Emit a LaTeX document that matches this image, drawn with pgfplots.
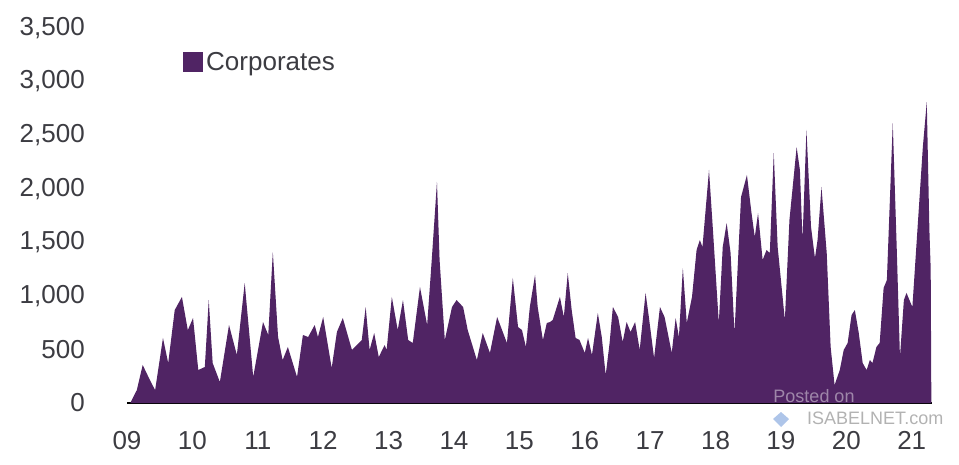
\documentclass[border=0pt]{standalone}
\usepackage{fontspec}
\setmainfont{Liberation Sans}
\usepackage{pgfplots}
\pgfplotsset{compat=1.18}
\definecolor{corp}{RGB}{80,36,100}
\definecolor{txt}{RGB}{60,60,66}
\begin{document}
\begin{tikzpicture}[x=1pt,y=1pt]
\path[use as bounding box] (0,0) rectangle (959,464);
\begin{axis}[
  at={(127pt,61pt)}, anchor=south west,
  scale only axis, width=805pt, height=375pt,
  xmin=2009, xmax=2021.31, ymin=0, ymax=3500,
  axis lines*=left,
  y axis line style={draw=none},
  x axis line style={black, line width=1.6pt},
  tick style={draw=none},
  major tick length=0pt,
  xtick={2009,2010,...,2021},
  xticklabels={09,10,11,12,13,14,15,16,17,18,19,20,21},
  ytick={0,500,...,3500},
  scaled y ticks=false,
  /pgf/number format/assume math mode=true,
  /pgf/number format/1000 sep={,},
  ticklabel style={font=\fontsize{26}{30}\selectfont, text=txt},
  yticklabel style={anchor=east, inner sep=0pt, xshift=-42pt},
  xticklabel style={anchor=north, inner sep=0pt, yshift=-28pt},
  legend style={draw=none, fill=none, at={(0.0696,0.909)}, anchor=west,
     font=\fontsize{26}{30}\selectfont, text=txt, inner sep=0pt,
     nodes={inner xsep=3pt, inner ysep=0pt}},
  legend image code/.code={\fill[corp] (0pt,-10pt) rectangle (20pt,10pt);},
]
\addplot[fill=corp, draw=none] coordinates {
(2009.05,0) (2009.15,120) (2009.24,355) (2009.35,215) (2009.43,120) (2009.55,607)
(2009.63,373) (2009.73,868) (2009.84,990) (2009.93,680) (2010.01,793) (2010.09,308)
(2010.19,336) (2010.25,961) (2010.31,373) (2010.42,196) (2010.56,728) (2010.68,448)
(2010.80,1120) (2010.93,243) (2011.08,756) (2011.16,635) (2011.23,1409) (2011.31,616)
(2011.38,401) (2011.46,523) (2011.60,243) (2011.69,635) (2011.77,616) (2011.87,728)
(2011.92,616) (2012.00,803) (2012.13,327) (2012.21,663) (2012.30,793) (2012.44,495)
(2012.59,588) (2012.65,896) (2012.71,495) (2012.78,653) (2012.85,429) (2012.94,541)
(2012.97,495) (2013.05,990) (2013.14,681) (2013.22,961) (2013.30,588) (2013.37,560)
(2013.48,1083) (2013.59,728) (2013.66,1335) (2013.74,2063) (2013.78,1335) (2013.86,588)
(2013.97,896) (2014.04,961) (2014.14,896) (2014.21,681) (2014.35,401) (2014.44,653)
(2014.55,467) (2014.66,803) (2014.81,560) (2014.90,1167) (2014.98,709) (2015.04,681)
(2015.10,523) (2015.16,896) (2015.24,1195) (2015.28,896) (2015.36,588) (2015.42,747)
(2015.47,756) (2015.51,775) (2015.62,990) (2015.68,803) (2015.74,1213) (2015.80,868)
(2015.86,607) (2015.92,588) (2016.00,467) (2016.05,607) (2016.11,448) (2016.20,840)
(2016.26,616) (2016.32,261) (2016.38,560) (2016.43,896) (2016.51,803) (2016.58,569)
(2016.64,756) (2016.70,663) (2016.77,756) (2016.84,495) (2016.93,1027) (2016.98,803)
(2017.06,420) (2017.15,896) (2017.22,803) (2017.27,653) (2017.33,467) (2017.39,793)
(2017.44,616) (2017.50,1260) (2017.56,747) (2017.64,990) (2017.71,1428) (2017.76,1521)
(2017.80,1456) (2017.90,2175) (2017.96,1615) (2018.05,747) (2018.11,1456) (2018.17,1680)
(2018.23,1400) (2018.29,653) (2018.39,1923) (2018.48,2128) (2018.55,1773) (2018.60,1549)
(2018.65,1773) (2018.72,1335) (2018.78,1428) (2018.83,1400) (2018.89,2333) (2018.95,1456)
(2019.06,775) (2019.13,1708) (2019.24,2389) (2019.29,2175) (2019.33,1521) (2019.39,2548)
(2019.46,1643) (2019.52,1353) (2019.56,1521) (2019.62,2016) (2019.70,1400) (2019.76,523)
(2019.82,168) (2019.90,308) (2019.96,495) (2020.02,560) (2020.08,821) (2020.13,868)
(2020.19,653) (2020.25,373) (2020.31,308) (2020.36,401) (2020.40,373) (2020.46,523)
(2020.51,560) (2020.57,1073) (2020.62,1148) (2020.71,2613) (2020.77,1456) (2020.82,429)
(2020.88,961) (2020.92,1027) (2021.01,896) (2021.09,1643) (2021.17,2389) (2021.23,2809)
(2021.27,1615) (2021.29,1250) (2021.30,0)
} \closedcycle;
\addlegendentry{Corporates}
\end{axis}
\node[text=white, opacity=0.45, font=\fontsize{18}{20}\selectfont] at (814,68) {Posted on};
\fill[cyan!50!blue!40, opacity=0.8] (773,45) -- (781,52) -- (789,45) -- (781,37) -- cycle;
\node[text=gray!60, font=\fontsize{18}{20}\selectfont, anchor=west, inner sep=0pt] at (807,46) {ISABELNET.com};
\end{tikzpicture}
\end{document}
